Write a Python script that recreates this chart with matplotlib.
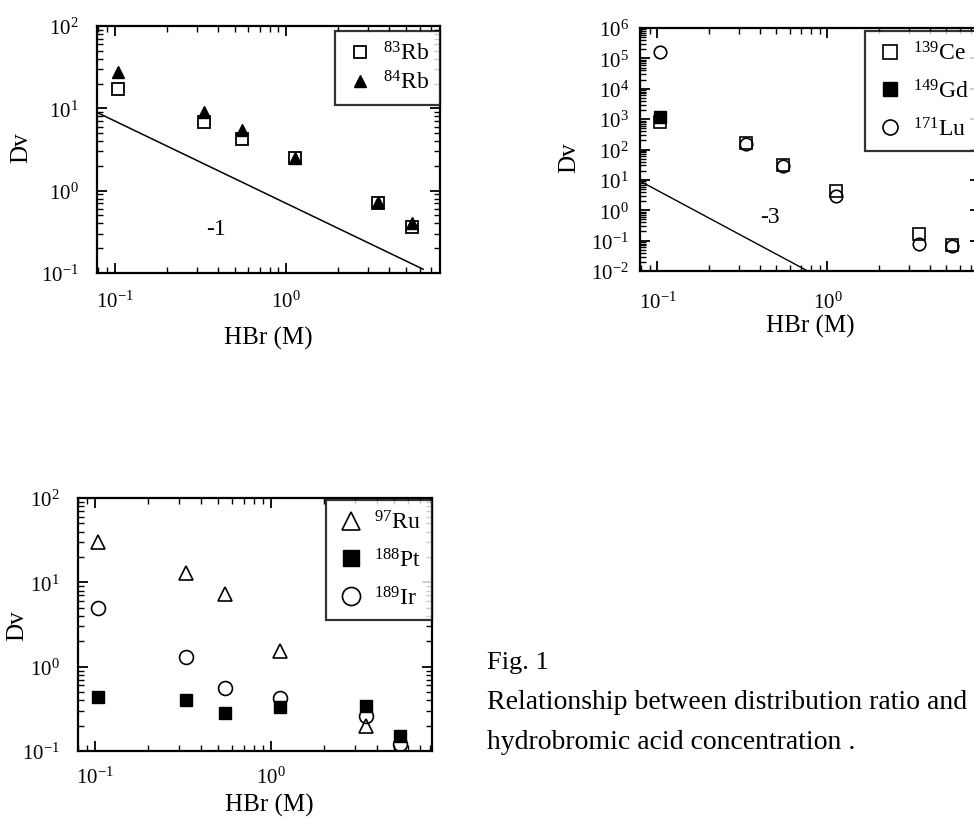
import numpy as np
import matplotlib
matplotlib.use("Agg")
import matplotlib.pyplot as plt
from matplotlib.ticker import LogLocator, NullFormatter

plt.rcParams['font.family'] = ['Liberation Serif', 'DejaVu Serif']
plt.rcParams['mathtext.fontset'] = 'custom'
plt.rcParams['mathtext.rm'] = 'Liberation Serif'
plt.rcParams['mathtext.it'] = 'Liberation Serif:italic'
plt.rcParams['mathtext.bf'] = 'Liberation Serif:bold'

# HBr concentrations (M)
hbr = [0.104, 0.33, 0.55, 1.12, 3.45, 5.4]

# Rb
rb83 = [17, 6.9, 4.3, 2.5, 0.70, 0.36]
rb84 = [28, 9.0, 5.5, 2.5, 0.72, 0.40]

# lanthanides
ce139 = [800, 160, 30, 4.4, 0.16, 0.07]
gd_x = [0.104]
gd149 = [1200]
lu171 = [1.6e5, 150, 28, 3.0, 0.08, 0.065]

# platinum group
ru_x = [0.104, 0.33, 0.55, 1.12, 3.45]
ru97 = [30, 13, 7.3, 1.55, 0.20]
pt188 = [0.44, 0.40, 0.28, 0.33, 0.34, 0.15]
ir189 = [5.0, 1.3, 0.56, 0.42, 0.26, 0.12]

# slope reference lines
slope1_x = [0.078, 6.3]
slope3_x = [0.079, 0.77]

fig = plt.figure(figsize=(9.74, 8.2), dpi=100)


def style_axes(ax, ylim, xpad, ypad):
    ax.set_xscale('log')
    ax.set_yscale('log')
    ax.set_ylim(*ylim)
    for s in ax.spines.values():
        s.set_linewidth(1.6)
    for axis in (ax.xaxis, ax.yaxis):
        axis.set_major_locator(LogLocator(base=10, numticks=30))
        axis.set_minor_locator(LogLocator(base=10, subs=np.arange(2, 10), numticks=100))
        axis.set_minor_formatter(NullFormatter())
    ax.tick_params(which='both', direction='in', top=True, right=True, labelsize=15)
    ax.tick_params(which='major', length=7, width=1.3)
    ax.tick_params(which='minor', length=4, width=1.0)
    ax.tick_params(axis='x', pad=xpad)
    ax.tick_params(axis='y', pad=ypad)


def labels(ax, xl, yl):
    ax.set_xlabel('HBr (M)', fontsize=18)
    ax.set_ylabel('Dv', fontsize=18)
    ax.xaxis.set_label_coords(*xl)
    ax.yaxis.set_label_coords(*yl)


def legend(ax, anchor, spacing, mscale):
    leg = ax.legend(loc='upper right', bbox_to_anchor=anchor, fontsize=17,
                    frameon=True, fancybox=False, edgecolor='black',
                    borderaxespad=0, handletextpad=0.4, handlelength=1.2,
                    labelspacing=spacing, borderpad=0.45, markerscale=mscale)
    leg.get_frame().set_linewidth(1.6)


# panel 1: Rb
ax1 = fig.add_axes([97/974, 1-274/820, 343/974, 247/820])
ax1.plot(hbr, rb83, ls='none', marker='s', ms=9, mfc='white', mec='black', mew=1.3,
         label=r'$^{83}$Rb')
ax1.plot(hbr, rb84, ls='none', marker='^', ms=8, mfc='black', mec='black',
         label=r'$^{84}$Rb')
ax1.plot(slope1_x, [0.7/x for x in slope1_x], color='black', lw=1.1)
ax1.text(0.39, 0.35, '-1', fontsize=17, ha='center', va='center')
style_axes(ax1, (0.1, 100), 13, 13)
ax1.set_xlim(0.0785, 7.9)
labels(ax1, (0.50, -0.215), (-0.19, 0.51))
legend(ax1, (1.0, 1 - 5/247), 0.25, 1.0)

# panel 2: Ce, Gd, Lu
ax2 = fig.add_axes([640/974, 1-272/820, 340/974, 243/820])
ax2.plot(hbr, ce139, ls='none', marker='s', ms=8, mfc='white', mec='black', mew=1.2,
         label=r'$^{139}$Ce')
ax2.plot(gd_x, gd149, ls='none', marker='s', ms=8, mfc='black', mec='black',
         label=r'$^{149}$Gd')
ax2.plot(hbr, lu171, ls='none', marker='o', ms=9, mfc='none', mec='black', mew=1.2,
         label=r'$^{171}$Lu')
ax2.plot(slope3_x, [0.0045/x**3 for x in slope3_x], color='black', lw=1.0)
ax2.text(0.46, 0.6, '-3', fontsize=17, ha='center', va='center')
style_axes(ax2, (0.01, 1e6), 15, 8)
ax2.set_xlim(0.079, 7.9)
labels(ax2, (0.50, -0.175), (-0.175, 0.47))
legend(ax2, (1.0, 1 - 3/243), 0.62, 1.2)

# panel 3: Ru, Pt, Ir
ax3 = fig.add_axes([78/974, 1-752/820, 354/974, 253/820])
ax3.plot(ru_x, ru97, ls='none', marker='^', ms=10, mfc='white', mec='black', mew=1.2,
         label=r'$^{97}$Ru')
ax3.plot(hbr, pt188, ls='none', marker='s', ms=9, mfc='black', mec='black',
         label=r'$^{188}$Pt')
ax3.plot(hbr, ir189, ls='none', marker='o', ms=10, mfc='none', mec='black', mew=1.2,
         label=r'$^{189}$Ir')
style_axes(ax3, (0.1, 100), 11, 13)
ax3.set_xlim(0.08, 8.2)
labels(ax3, (0.54, -0.165), (-0.14, 0.50))
legend(ax3, (1.0, 1 - 2/253), 0.62, 1.3)

# caption
fig.text(487/974, 1-663/820, 'Fig. 1', fontsize=19, ha='left', va='center')
fig.text(487/974, 1-703/820, 'Relationship between distribution ratio and',
         fontsize=20, ha='left', va='center')
fig.text(487/974, 1-743/820, 'hydrobromic acid concentration .',
         fontsize=20, ha='left', va='center')

fig.savefig('out.png', dpi=100)
